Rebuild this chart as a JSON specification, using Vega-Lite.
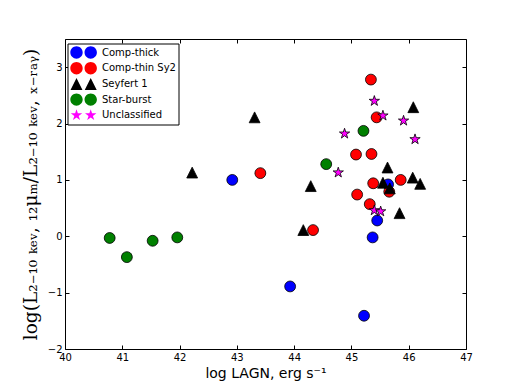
{
  "$schema": "https://vega.github.io/schema/vega-lite/v6.json",
  "width": 401,
  "height": 310,
  "autosize": {"type": "none"},
  "padding": {"left": 65, "top": 39, "right": 52, "bottom": 39},
  "background": "white",
  "config": {
    "view": {"stroke": "black", "strokeWidth": 1},
    "font": "DejaVu Sans",
    "axis": {"grid": false, "domain": false, "tickColor": "black", "tickWidth": 1, "labelColor": "black", "labelFont": "DejaVu Sans", "labelFontSize": 10, "titleColor": "black", "titleFontWeight": "normal", "labelFlush": false, "labelOverlap": false},
    "legend": {"orient": "none", "legendX": 2.5, "legendY": 4.5, "strokeColor": "black", "fillColor": "white", "padding": 2.5, "cornerRadius": 0, "labelFontSize": 10, "labelFont": "DejaVu Sans", "labelColor": "black", "labelOffset": 19, "symbolSize": 144, "symbolStrokeColor": "black", "symbolStrokeWidth": 0.8, "symbolOpacity": 1, "rowPadding": -1.3, "labelLimit": 200}
  },
  "data": {"values": [
    {"lum": 44.16, "ratio": 0.11, "cls": "Seyfert 1"},
    {"lum": 42.92, "ratio": 1.00, "cls": "Comp-thick"},
    {"lum": 43.93, "ratio": -0.89, "cls": "Comp-thick"},
    {"lum": 45.22, "ratio": -1.41, "cls": "Comp-thick"},
    {"lum": 45.45, "ratio": 0.28, "cls": "Comp-thick"},
    {"lum": 45.37, "ratio": -0.02, "cls": "Comp-thick"},
    {"lum": 45.64, "ratio": 0.92, "cls": "Comp-thick"},
    {"lum": 43.41, "ratio": 1.12, "cls": "Comp-thin Sy2"},
    {"lum": 44.33, "ratio": 0.11, "cls": "Comp-thin Sy2"},
    {"lum": 45.34, "ratio": 2.78, "cls": "Comp-thin Sy2"},
    {"lum": 45.44, "ratio": 2.11, "cls": "Comp-thin Sy2"},
    {"lum": 45.08, "ratio": 1.45, "cls": "Comp-thin Sy2"},
    {"lum": 45.35, "ratio": 1.46, "cls": "Comp-thin Sy2"},
    {"lum": 45.38, "ratio": 0.94, "cls": "Comp-thin Sy2"},
    {"lum": 45.86, "ratio": 1.00, "cls": "Comp-thin Sy2"},
    {"lum": 45.10, "ratio": 0.74, "cls": "Comp-thin Sy2"},
    {"lum": 45.32, "ratio": 0.57, "cls": "Comp-thin Sy2"},
    {"lum": 45.66, "ratio": 0.79, "cls": "Comp-thin Sy2"},
    {"lum": 42.22, "ratio": 1.13, "cls": "Seyfert 1"},
    {"lum": 43.31, "ratio": 2.11, "cls": "Seyfert 1"},
    {"lum": 44.29, "ratio": 0.89, "cls": "Seyfert 1"},
    {"lum": 46.08, "ratio": 2.29, "cls": "Seyfert 1"},
    {"lum": 45.63, "ratio": 1.22, "cls": "Seyfert 1"},
    {"lum": 45.55, "ratio": 0.95, "cls": "Seyfert 1"},
    {"lum": 45.67, "ratio": 0.85, "cls": "Seyfert 1"},
    {"lum": 46.07, "ratio": 1.04, "cls": "Seyfert 1"},
    {"lum": 46.20, "ratio": 0.93, "cls": "Seyfert 1"},
    {"lum": 45.84, "ratio": 0.41, "cls": "Seyfert 1"},
    {"lum": 40.78, "ratio": -0.03, "cls": "Star-burst"},
    {"lum": 41.08, "ratio": -0.37, "cls": "Star-burst"},
    {"lum": 41.53, "ratio": -0.08, "cls": "Star-burst"},
    {"lum": 41.96, "ratio": -0.02, "cls": "Star-burst"},
    {"lum": 44.56, "ratio": 1.28, "cls": "Star-burst"},
    {"lum": 45.21, "ratio": 1.87, "cls": "Star-burst"},
    {"lum": 45.40, "ratio": 2.40, "cls": "Unclassified"},
    {"lum": 45.55, "ratio": 2.14, "cls": "Unclassified"},
    {"lum": 45.91, "ratio": 2.05, "cls": "Unclassified"},
    {"lum": 44.88, "ratio": 1.82, "cls": "Unclassified"},
    {"lum": 46.11, "ratio": 1.72, "cls": "Unclassified"},
    {"lum": 44.77, "ratio": 1.13, "cls": "Unclassified"},
    {"lum": 45.40, "ratio": 0.46, "cls": "Unclassified"},
    {"lum": 45.51, "ratio": 0.44, "cls": "Unclassified"}
  ]},
  "layer": [
    {
      "mark": {"type": "point", "filled": true, "opacity": 1, "stroke": "black", "strokeWidth": 0.8},
      "encoding": {
        "x": {"field": "lum", "type": "quantitative", "scale": {"domain": [40, 47], "nice": false, "zero": false},
          "axis": {"orient": "bottom", "values": [40, 41, 42, 43, 44, 45, 46, 47], "format": "d", "tickSize": -4, "labelPadding": 7, "title": "log LAGN, erg s⁻¹", "titleFont": "DejaVu Sans", "titleFontSize": 14, "titlePadding": 4}},
        "y": {"field": "ratio", "type": "quantitative", "scale": {"domain": [-2, 3.5], "nice": false, "zero": false},
          "axis": {"orient": "left", "values": [-2, -1, 0, 1, 2, 3], "format": "d", "tickSize": -4, "labelPadding": 7, "title": "log(L₂₋₁₀ ₖₑᵥ, ₁₂μₘ/L₂₋₁₀ ₖₑᵥ, ₓ₋ᵣₐᵧ)", "titleFont": "DejaVu Serif", "titleFontSize": 18.5, "titlePadding": 7}},
        "color": {"field": "cls", "type": "nominal",
          "scale": {"domain": ["Comp-thick", "Comp-thin Sy2", "Seyfert 1", "Star-burst", "Unclassified"], "range": ["#0000ff", "#ff0000", "#000000", "#008000", "#ff00ff"]},
          "legend": null},
        "shape": {"field": "cls", "type": "nominal",
          "scale": {"domain": ["Comp-thick", "Comp-thin Sy2", "Seyfert 1", "Star-burst", "Unclassified"], "range": ["circle", "circle", "M0,-1L1,1L-1,1Z", "circle", "M0,-1L0.2245,-0.309L0.951,-0.309L0.363,0.118L0.588,0.809L0,0.382L-0.588,0.809L-0.363,0.118L-0.951,-0.309L-0.2245,-0.309Z"]},
          "legend": null},
        "size": {"field": "cls", "type": "ordinal",
          "scale": {"domain": ["Comp-thick", "Comp-thin Sy2", "Seyfert 1", "Star-burst", "Unclassified"], "range": [118, 118, 130, 118, 110]},
          "legend": null}
      }
    },
    {
      "mark": {"type": "point", "filled": true, "opacity": 0, "stroke": "black", "strokeWidth": 0.8, "size": 144},
      "encoding": {
        "x": {"field": "lum", "type": "quantitative", "axis": {"orient": "top", "values": [40, 41, 42, 43, 44, 45, 46, 47], "tickSize": -4, "labels": false, "title": null}},
        "y": {"field": "ratio", "type": "quantitative", "axis": {"orient": "right", "values": [-2, -1, 0, 1, 2, 3], "tickSize": -4, "labels": false, "title": null}},
        "color": {"field": "cls", "type": "nominal",
          "scale": {"domain": ["Comp-thick", "Comp-thin Sy2", "Seyfert 1", "Star-burst", "Unclassified"], "range": ["#0000ff", "#ff0000", "#000000", "#008000", "#ff00ff"]},
          "legend": {"title": null}},
        "shape": {"field": "cls", "type": "nominal",
          "scale": {"domain": ["Comp-thick", "Comp-thin Sy2", "Seyfert 1", "Star-burst", "Unclassified"], "range": [
            "M-1.03,0A1.03,1.03,0,0,1,0,-1.03A1.03,1.03,0,0,1,1.03,0A1.03,1.03,0,0,1,0,1.03A1.03,1.03,0,0,1,-1.03,0ZM1.34,0A1.03,1.03,0,0,1,2.37,-1.03A1.03,1.03,0,0,1,3.4,0A1.03,1.03,0,0,1,2.37,1.03A1.03,1.03,0,0,1,1.34,0Z",
            "M-1.03,0A1.03,1.03,0,0,1,0,-1.03A1.03,1.03,0,0,1,1.03,0A1.03,1.03,0,0,1,0,1.03A1.03,1.03,0,0,1,-1.03,0ZM1.34,0A1.03,1.03,0,0,1,2.37,-1.03A1.03,1.03,0,0,1,3.4,0A1.03,1.03,0,0,1,2.37,1.03A1.03,1.03,0,0,1,1.34,0Z",
            "M0,-1L1,1L-1,1ZM2.37,-1L3.37,1L1.37,1Z",
            "M-1.03,0A1.03,1.03,0,0,1,0,-1.03A1.03,1.03,0,0,1,1.03,0A1.03,1.03,0,0,1,0,1.03A1.03,1.03,0,0,1,-1.03,0ZM1.34,0A1.03,1.03,0,0,1,2.37,-1.03A1.03,1.03,0,0,1,3.4,0A1.03,1.03,0,0,1,2.37,1.03A1.03,1.03,0,0,1,1.34,0Z",
            "M0,-0.905L0.2245,-0.214L0.951,-0.214L0.363,0.213L0.588,0.904L0,0.477L-0.588,0.904L-0.363,0.213L-0.951,-0.214L-0.2245,-0.214ZM2.37,-0.905L2.5945,-0.214L3.321,-0.214L2.733,0.213L2.958,0.904L2.37,0.477L1.782,0.904L2.007,0.213L1.419,-0.214L2.1455,-0.214Z"]},
          "legend": {"title": null}}
      }
    }
  ],
  "resolve": {"axis": {"x": "independent", "y": "independent"}, "scale": {"color": "independent", "shape": "independent", "size": "independent"}}
}
